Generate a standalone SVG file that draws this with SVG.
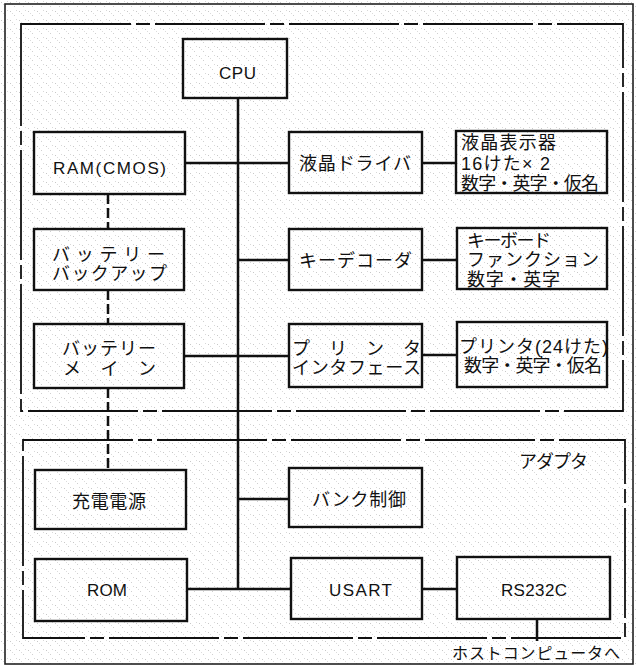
<svg xmlns="http://www.w3.org/2000/svg" width="636" height="666" viewBox="0 0 636 666">
<defs>
<pattern id="speckle" width="9" height="9" patternUnits="userSpaceOnUse">
<rect x="1" y="2" width="1" height="1" fill="#c8c8c8"/>
<rect x="5" y="6" width="1" height="1" fill="#d0d0d0"/>
<rect x="7" y="1" width="1" height="1" fill="#d8d8d8"/>
<rect x="3" y="4" width="1" height="1" fill="#dcdcdc"/>
</pattern>
</defs>
<style>
.box{fill:none;stroke:#111;stroke-width:2.4}
.frame{fill:none;stroke:#111;stroke-width:1.8;stroke-dasharray:110 5 14 5}
.outer{fill:none;stroke:#222;stroke-width:1.6}
.wire{fill:none;stroke:#111;stroke-width:2.5}
.dash{fill:none;stroke:#111;stroke-width:2.5;stroke-dasharray:10 4}
text{font-family:"Liberation Sans","Noto Sans CJK JP",sans-serif;fill:#111}
.lat{font-size:17px}
.jp{font-size:18px}
</style>
<rect width="636" height="666" fill="#fff"/>
<rect width="636" height="666" fill="url(#speckle)"/>
<rect class="outer" x="5" y="4" width="628" height="660"/>
<g id="groups">
<rect id="main-unit" class="frame" x="21" y="24" width="602" height="387"/>
<rect id="adapter" class="frame" x="23" y="440" width="602" height="198"/>
<text class="jp" x="519" y="468" textLength="69" lengthAdjust="spacing">アダプタ</text>
</g>
<g id="connectors">
<line class="wire" x1="238" y1="98" x2="238" y2="589"/>
<line class="wire" x1="185" y1="163" x2="289" y2="163"/>
<line class="wire" x1="422" y1="163" x2="456" y2="163" stroke-width="3"/>
<line class="wire" x1="238" y1="260" x2="289" y2="260"/>
<line class="wire" x1="422" y1="260" x2="457" y2="260" stroke-width="3"/>
<line class="wire" x1="184" y1="356" x2="289" y2="356"/>
<line class="wire" x1="422" y1="355" x2="457" y2="355"/>
<line class="wire" x1="238" y1="499" x2="289" y2="499"/>
<line class="wire" x1="187" y1="589" x2="291" y2="589"/>
<line class="wire" x1="422" y1="589" x2="457" y2="589"/>
<line class="wire" x1="537" y1="619" x2="537" y2="641"/>
<line class="dash" x1="108" y1="194" x2="108" y2="229"/>
<line class="dash" x1="108" y1="290" x2="108" y2="324"/>
<line class="dash" x1="108" y1="388" x2="108" y2="470"/>
</g>
<g id="cpu"><rect class="box" x="183" y="39" width="104" height="59"/>
<text class="lat" x="219" y="79" textLength="37" lengthAdjust="spacing">CPU</text></g>
<g id="ram"><rect class="box" x="34" y="132" width="151" height="62"/>
<text class="lat" x="53" y="174" textLength="113" lengthAdjust="spacing">RAM(CMOS)</text></g>
<g id="lcd-driver"><rect class="box" x="289" y="132" width="133" height="61"/>
<text class="jp" x="299" y="170" textLength="112" lengthAdjust="spacing">液晶ドライバ</text></g>
<g id="lcd"><rect class="box" x="456" y="131" width="151" height="62"/>
<text class="jp" x="461" y="149" textLength="95" lengthAdjust="spacing">液晶表示器</text>
<text class="jp" x="461" y="170" textLength="89" lengthAdjust="spacing">16けた× 2</text>
<text class="jp" x="461" y="190" textLength="138" lengthAdjust="spacing">数字・英字・仮名</text></g>
<g id="battery-backup"><rect class="box" x="34" y="229" width="150" height="61"/>
<text class="jp" x="52" y="261" textLength="113" lengthAdjust="spacing">バッテリー</text>
<text class="jp" x="52" y="280" textLength="115" lengthAdjust="spacing">バックアップ</text></g>
<g id="key-decoder"><rect class="box" x="289" y="229" width="133" height="61"/>
<text class="jp" x="299" y="267" textLength="113" lengthAdjust="spacing">キーデコーダ</text></g>
<g id="keyboard"><rect class="box" x="457" y="228" width="150" height="61"/>
<text class="jp" x="467" y="247" textLength="84" lengthAdjust="spacing">キーボード</text>
<text class="jp" x="467" y="266" textLength="132" lengthAdjust="spacing">ファンクション</text>
<text class="jp" x="467" y="286" textLength="93" lengthAdjust="spacing">数字・英字</text></g>
<g id="battery-main"><rect class="box" x="34" y="324" width="150" height="64"/>
<text class="jp" x="62" y="355" textLength="94" lengthAdjust="spacing">バッテリー</text>
<text class="jp" x="63" y="375" textLength="93" lengthAdjust="spacing">メ イ ン</text></g>
<g id="printer-if"><rect class="box" x="289" y="324" width="133" height="63"/>
<text class="jp" x="292" y="355" textLength="129" lengthAdjust="spacing">プ リ ン タ</text>
<text class="jp" x="292" y="374" textLength="129" lengthAdjust="spacing">インタフェース</text></g>
<g id="printer"><rect class="box" x="457" y="322" width="150" height="65"/>
<text class="jp" x="459" y="353" textLength="149" lengthAdjust="spacing">プリンタ(24けた)</text>
<text class="jp" x="464" y="372" textLength="138" lengthAdjust="spacing">数字・英字・仮名</text></g>
<g id="charger"><rect class="box" x="35" y="470" width="151" height="59"/>
<text class="jp" x="72" y="508" textLength="74" lengthAdjust="spacing">充電電源</text></g>
<g id="bank"><rect class="box" x="289" y="468" width="133" height="59"/>
<text class="jp" x="312" y="506" textLength="94" lengthAdjust="spacing">バンク制御</text></g>
<g id="rom"><rect class="box" x="35" y="559" width="152" height="62"/>
<text class="lat" x="87" y="596" textLength="40" lengthAdjust="spacing">ROM</text></g>
<g id="usart"><rect class="box" x="291" y="558" width="131" height="61"/>
<text class="lat" x="329" y="596" textLength="63" lengthAdjust="spacing">USART</text></g>
<g id="rs232c"><rect class="box" x="457" y="557" width="153" height="62"/>
<text class="lat" x="501" y="596" textLength="66" lengthAdjust="spacing">RS232C</text></g>
<text x="452" y="659" font-size="16" textLength="168" lengthAdjust="spacing">ホストコンピュータへ</text>
</svg>
